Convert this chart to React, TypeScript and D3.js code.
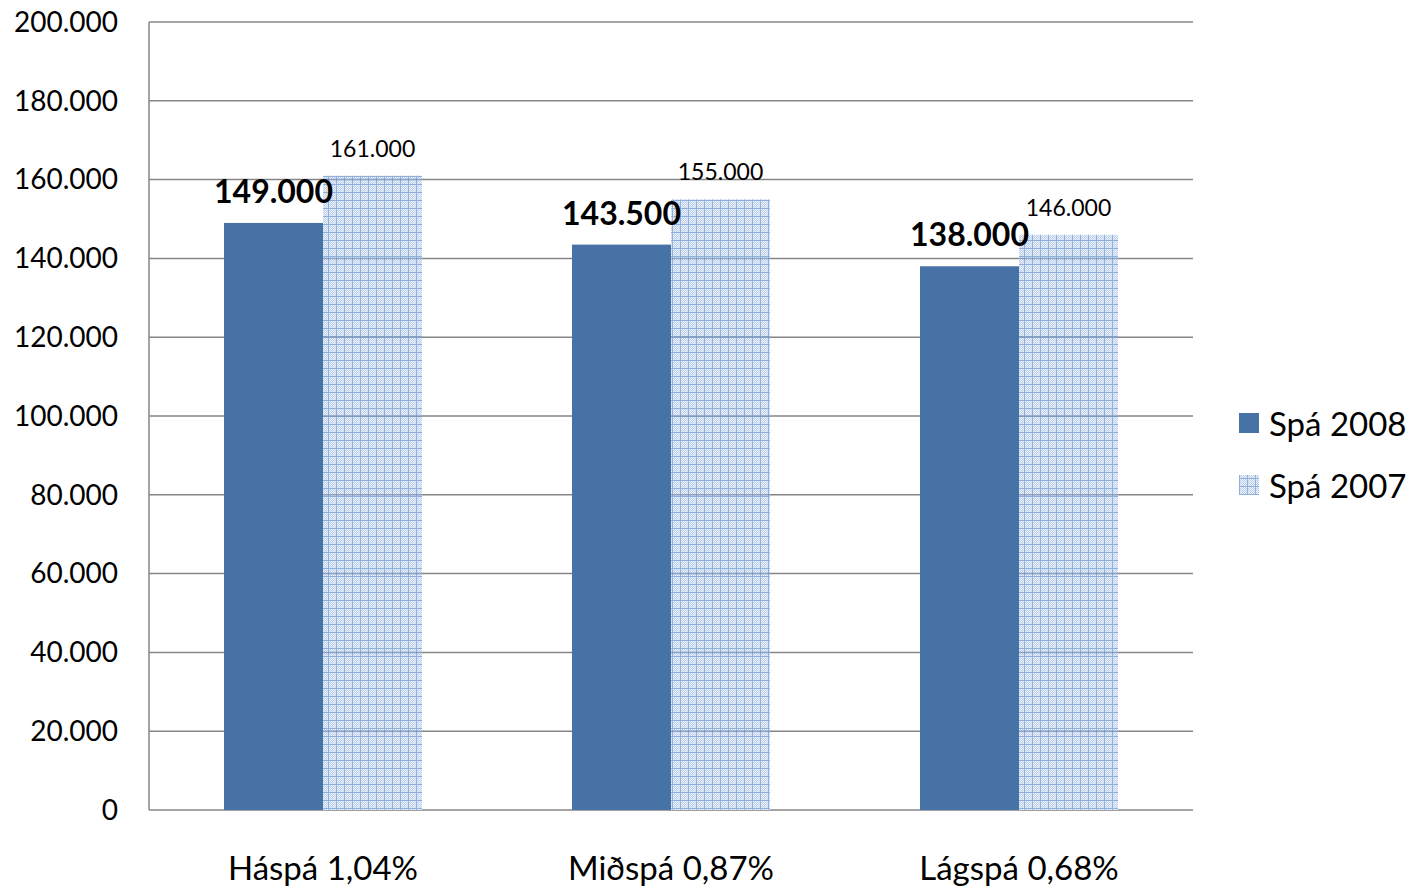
import React from "react";
import * as d3 from "d3";

const categories = ["Háspá 1,04%", "Miðspá 0,87%", "Lágspá 0,68%"];
const spa2008 = [149000, 143500, 138000];
const spa2007 = [161000, 155000, 146000];
const seriesNames = ["Spá 2008", "Spá 2007"];
const yTicks = [0, 20000, 40000, 60000, 80000, 100000, 120000, 140000, 160000, 180000, 200000];

const fmt = (v: number) => d3.format(",")(v).replace(/,/g, ".");

const App: React.FC = () => {
  const width = 1412;
  const height = 890;
  const left = 149, right = 1193, top = 22, bottom = 810;

  const x = d3.scaleBand<string>().domain(categories).range([left, right]).paddingInner(0).paddingOuter(0);
  const y = d3.scaleLinear().domain([0, 200000]).range([bottom, top]);
  const barW = 99;
  const font = "Lato, 'Open Sans', sans-serif";

  return (
    <svg width={width} height={height} style={{ position: "absolute", left: 0, top: 0, background: "#fff" }}>
      <defs>
        <pattern id="grid" width="8" height="8" patternUnits="userSpaceOnUse">
          <rect width="8" height="8" fill="#bccfec" />
          {d3.range(0, 8).map((j) =>
            d3.range(0, 8).map((i) =>
              (i + j) % 2 === 0 ? <rect key={`${i}-${j}`} x={i} y={j} width="1" height="1" fill="#eef3fb" /> : null
            )
          )}
          <rect x="0" y="0" width="8" height="1" fill="#8fafdd" />
          <rect x="0" y="0" width="1" height="8" fill="#8fafdd" />
        </pattern>
      </defs>

      {yTicks.map((t) => (
        <g key={t}>
          <line x1={left} x2={right} y1={y(t)} y2={y(t)} stroke="#868686" strokeWidth={1.5} />
          <text x={118} y={y(t)} dy="0.35em" textAnchor="end" fontFamily={font} fontSize={28} fill="#000">
            {fmt(t)}
          </text>
        </g>
      ))}
      <line x1={left} x2={left} y1={top} y2={bottom} stroke="#868686" strokeWidth={1.5} />

      {categories.map((c, i) => {
        const cx = (x(c) ?? 0) + x.bandwidth() / 2;
        return (
          <g key={c}>
            <rect x={cx - barW} y={y(spa2008[i])} width={barW} height={bottom - y(spa2008[i])} fill="#4672a6" />
            <rect x={cx} y={y(spa2007[i])} width={barW} height={bottom - y(spa2007[i])} fill="url(#grid)" />
            {yTicks
              .filter((t) => t > 0 && t < spa2007[i])
              .map((t) => (
                <line key={t} x1={cx} x2={cx + barW} y1={y(t)} y2={y(t)} stroke="#6d86aa" strokeWidth={1.5} opacity={0.7} />
              ))}
            <text x={cx - barW / 2} y={y(spa2008[i]) - 20} textAnchor="middle" fontFamily={font} fontSize={32} fontWeight="bold" fill="#000">
              {fmt(spa2008[i])}
            </text>
            <text x={cx + barW / 2} y={y(spa2007[i]) - 19} textAnchor="middle" fontFamily={font} fontSize={23} fill="#000">
              {fmt(spa2007[i])}
            </text>
            <text x={cx} y={880} textAnchor="middle" fontFamily={font} fontSize={33} fill="#000">
              {c}
            </text>
          </g>
        );
      })}

      {seriesNames.map((s, i) => (
        <g key={s} transform={`translate(1239, ${424 + i * 62})`}>
          <rect x={0} y={-11} width={20} height={20} fill={i === 0 ? "#4672a6" : "url(#grid)"} />
          <text x={30} y={0} dy="0.35em" fontFamily={font} fontSize={33} fill="#000">
            {s}
          </text>
        </g>
      ))}
    </svg>
  );
};

export default App;
